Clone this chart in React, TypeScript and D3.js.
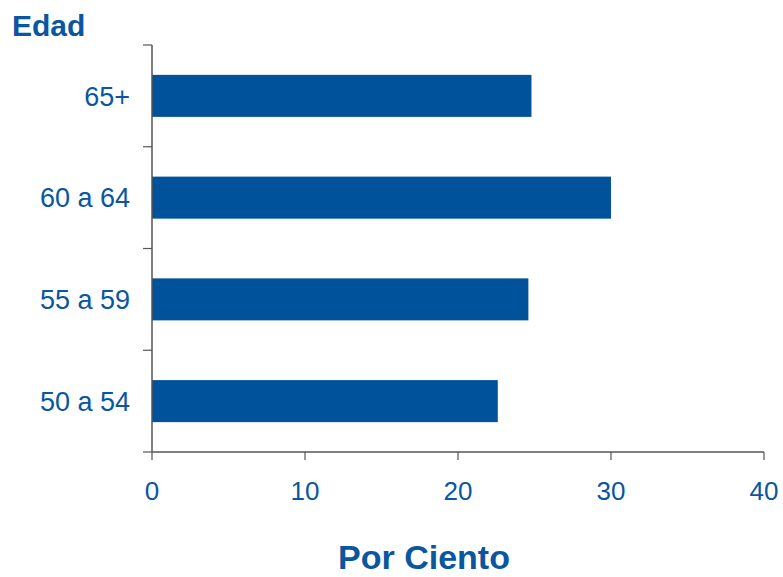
import React from "react";
import * as d3 from "d3";

const categories = ["65+", "60 a 64", "55 a 59", "50 a 54"];
const values = [24.8, 30.0, 24.6, 22.6];
const xTicks = [0, 10, 20, 30, 40];
const yTitle = "Edad";
const xTitle = "Por Ciento";

const W = 783;
const H = 577;
const BLUE = "#00529b";
const TEXT = "#0a56a0";
const AXIS = "#555";
const FONT = "'Liberation Sans', Arial, Helvetica, sans-serif";

export default function App() {
  const left = 152;
  const right = 764;
  const top = 45;
  const bottom = 452;
  const x = d3.scaleLinear().domain([0, 40]).range([left, right]);
  const y = d3.scaleBand<string>().domain(categories).range([top, bottom]).paddingInner(0.587).paddingOuter(0.2935);
  const bandStep = y.step();
  const yTickPositions = d3.range(categories.length + 1).map((i) => top + i * bandStep);

  return (
    <svg width={W} height={H} style={{ position: "absolute", left: 0, top: 0, background: "#fff" }} fontFamily={FONT}>
      {categories.map((c, i) => (
        <rect key={c} x={x(0)} y={y(c)!} width={x(values[i]) - x(0)} height={y.bandwidth()} fill={BLUE} />
      ))}
      {/* y axis */}
      <line x1={left} x2={left} y1={top} y2={bottom} stroke={AXIS} strokeWidth={1.5} />
      {yTickPositions.map((p, i) => (
        <line key={i} x1={left - 9} x2={left} y1={p} y2={p} stroke={AXIS} strokeWidth={1.2} />
      ))}
      {categories.map((c) => (
        <text key={c} x={130} y={y(c)! + y.bandwidth() / 2} dy="0.36em" textAnchor="end" fontSize={27} fill={TEXT}>
          {c}
        </text>
      ))}
      {/* x axis */}
      <line x1={left} x2={right} y1={bottom} y2={bottom} stroke={AXIS} strokeWidth={1.5} />
      {xTicks.map((t) => (
        <g key={t}>
          <line x1={x(t)} x2={x(t)} y1={bottom} y2={bottom + 8} stroke={AXIS} strokeWidth={1.2} />
          <text x={x(t)} y={500} textAnchor="middle" fontSize={26} fill={TEXT}>
            {t}
          </text>
        </g>
      ))}
      <text x={12} y={36} fontSize={30} fontWeight="bold" fill={TEXT}>
        {yTitle}
      </text>
      <text x={424} y={569} textAnchor="middle" fontSize={34} fontWeight="bold" fill={TEXT}>
        {xTitle}
      </text>
    </svg>
  );
}
